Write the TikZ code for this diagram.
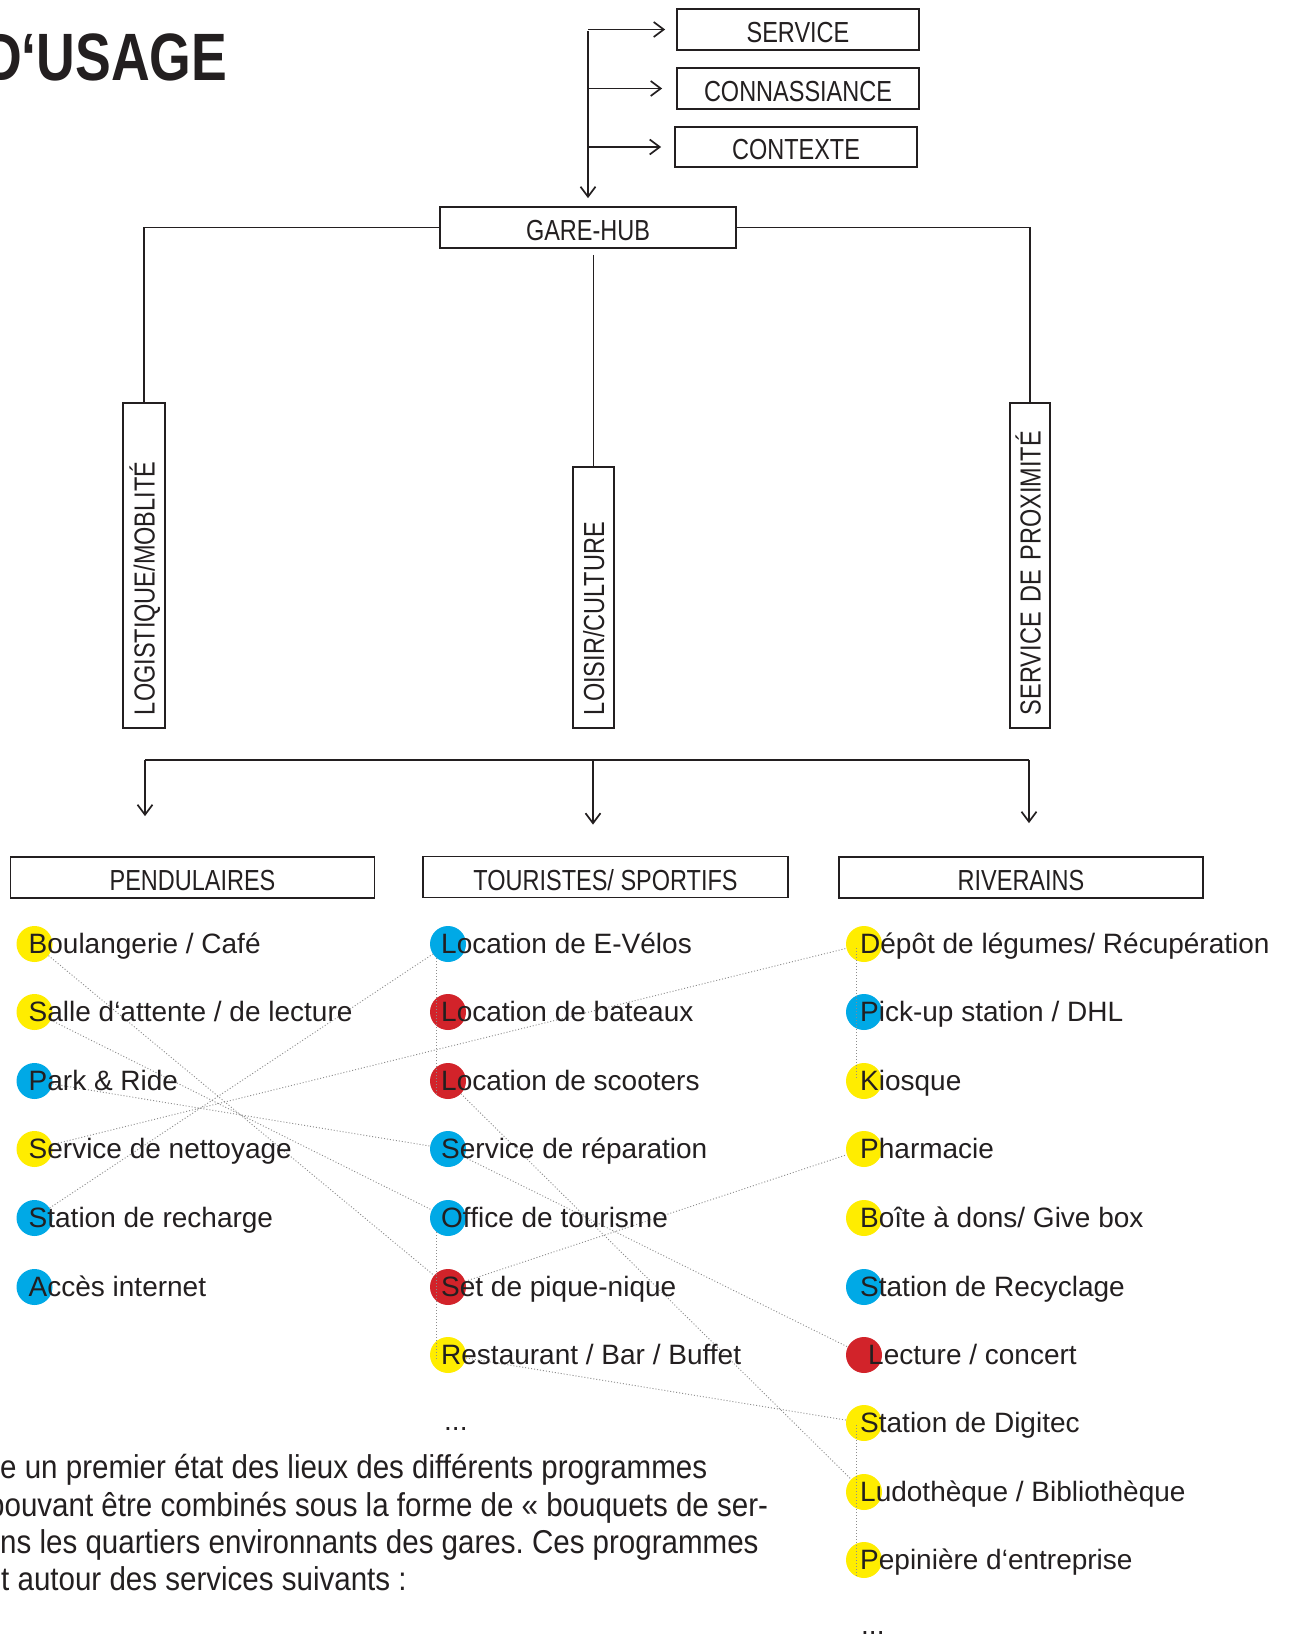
\documentclass[tikz,border=0pt]{standalone}
\usepackage{fontspec}
\setmainfont{Liberation Sans}
\newfontfamily\labelfont[FakeStretch=0.81]{Liberation Sans}
\newfontfamily\parafont[FakeStretch=0.895]{Liberation Sans}
\newfontfamily\titlefont[FakeStretch=0.8]{Liberation Sans}
\usetikzlibrary{arrows.meta,calc}
\definecolor{ink}{HTML}{231F20}
\definecolor{cyel}{HTML}{FFED00}
\definecolor{cblue}{HTML}{00A9E6}
\definecolor{cred}{HTML}{D2232A}
\definecolor{dotgray}{HTML}{8C8C8C}
\frenchspacing
\tikzset{
 line/.style={draw=ink,line width=1.7pt},
 arr/.style={line,-{Straight Barb[length=10pt,width=15pt]}},
 hbox/.style={draw=ink,line width=1.8pt,inner sep=0pt,text=ink,font=\labelfont\fontsize{29}{29}\selectfont,text height=26pt,text depth=0pt},
 vbox/.style={draw=ink,line width=1.8pt,rotate=90,inner ysep=0pt,inner xsep=13pt,text=ink,font=\labelfont\fontsize{29}{29}\selectfont,text height=21pt,text depth=0pt,align=left},
 dot/.style={circle,fill=#1,draw=none,minimum size=36pt,inner sep=0pt},
 itm/.style={anchor=base west,inner sep=0pt,text=ink,font=\fontsize{28}{28}\selectfont},
 para/.style={anchor=base west,inner sep=0pt,text=ink,font=\parafont\fontsize{33}{33}\selectfont},
 dotl/.style={draw=dotgray,line width=0.9pt,dash pattern=on 1pt off 2pt},
}
\begin{document}
\begin{tikzpicture}[x=1pt,y=-1pt]
\useasboundingbox[fill=white] (0,0) rectangle (1289,1640);

% title
\node[anchor=base west,inner sep=0pt,text=ink,font=\titlefont\bfseries\fontsize{67}{67}\selectfont] (title) at (-17,81) {D‘USAGE};

% top boxes
\node[hbox,minimum width=242pt,minimum height=41pt] (svc) at (798,29.5) {SERVICE};
\node[hbox,minimum width=242pt,minimum height=41pt] (con) at (798,88.5) {CONNASSIANCE};
\node[hbox,minimum width=242pt,minimum height=40pt] (ctx) at (796,147) {CONTEXTE};
\node[hbox,minimum width=296pt,minimum height=41pt] (hub) at (588,227.5) {GARE-HUB};
\coordinate (trunk) at (588,31);
\draw[arr,shorten >=11pt] (trunk |- svc.west) -- (svc.west);
\draw[arr,shorten >=14pt] (trunk |- con.west) -- (con.west);
\draw[arr,shorten >=13pt] (trunk |- ctx.west) -- (ctx.west);
\draw[arr,shorten >=8pt] (trunk) -- (trunk |- hub.north);

% vertical category boxes (rotated: visual top is the .east anchor)
\node[vbox,minimum width=325pt,minimum height=42pt,text width=299pt] (log) at (144,565.5) {LOGISTIQUE/MOBLITÉ};
\node[vbox,minimum width=261pt,minimum height=41pt,text width=235pt] (loi) at (593.5,597.5) {LOISIR/CULTURE};
\node[vbox,minimum width=325pt,minimum height=40pt,text width=299pt] (sdp) at (1030,565.5) {SERVICE DE PROXIMITÉ};
\draw[line] (hub.west) -| (log.east);
\draw[line] (hub.east) -| (sdp.east);
\draw[line,shorten <=6pt] (loi.east |- hub.south) -- (loi.east);

% group boxes
\node[hbox,minimum width=364pt,minimum height=41pt] (pen) at (192.5,877.5) {PENDULAIRES};
\node[hbox,minimum width=365pt,minimum height=41pt] (tou) at (605.5,877) {TOURISTES/ SPORTIFS};
\node[hbox,minimum width=364pt,minimum height=41pt] (riv) at (1021,877.5) {RIVERAINS};
\coordinate (bl) at (145,760);
\coordinate (bm) at (593,760);
\coordinate (br) at (1029,760);
\draw[line] (bl) -- (br);
\draw[arr,shorten >=40pt] (bl) -- (bl |- pen.north);
\draw[arr,shorten >=31pt] (bm) -- (bm |- tou.north);
\draw[arr,shorten >=33pt] (br) -- (br |- riv.north);

% dots
\node[dot=cyel]  (p1) at (34.5,944) {};
\node[dot=cyel]  (p2) at (34.5,1012) {};
\node[dot=cblue] (p3) at (34.5,1081) {};
\node[dot=cyel]  (p4) at (34.5,1149) {};
\node[dot=cblue] (p5) at (34.5,1218) {};
\node[dot=cblue] (p6) at (34.5,1287) {};

\node[dot=cblue] (m1) at (448,944) {};
\node[dot=cred]  (m2) at (448,1012) {};
\node[dot=cred]  (m3) at (448,1081) {};
\node[dot=cblue] (m4) at (448,1149) {};
\node[dot=cblue] (m5) at (448,1218) {};
\node[dot=cred]  (m6) at (448,1287) {};
\node[dot=cyel]  (m7) at (448,1355) {};

\node[dot=cyel]  (r1) at (864,944) {};
\node[dot=cblue] (r2) at (864,1012) {};
\node[dot=cyel]  (r3) at (864,1081) {};
\node[dot=cyel]  (r4) at (864,1149) {};
\node[dot=cyel]  (r5) at (864,1218) {};
\node[dot=cblue] (r6) at (864,1287) {};
\node[dot=cred]  (r7) at (864,1355) {};
\node[dot=cyel]  (r8) at (864,1423) {};
\node[dot=cyel]  (r9) at (864,1492) {};
\node[dot=cyel]  (r10) at (864,1560) {};

% dotted links
\draw[dotl] (p1) -- (m6);
\draw[dotl] (p2) -- (m5);
\draw[dotl] (p3) -- (m4);
\draw[dotl] (p4) -- (r1);
\draw[dotl] (p5) -- (m1);
\draw[dotl] (m3) -- (r9);
\draw[dotl] (m4) -- (r7);
\draw[dotl] (m6) -- (r4);
\draw[dotl] (m7) -- (r8);
\draw[dotl] (m1.232) -- (m1.232 |- m3.232);
\draw[dotl] (m5.232) -- (m5.232 |- m7.200);
\draw[dotl] ($(r1.center)+(-8,4)$) -- ($(r3.center)+(-8,-2)$);
\draw[dotl] ($(r8.center)+(-8,2)$) -- ($(r10.center)+(-8,16)$);

% item labels
\node[itm] (p1t) at ($(p1.center)+(-6,9.5)$) {Boulangerie / Café};
\node[itm] (p2t) at ($(p2.center)+(-6,9.5)$) {Salle d‘attente / de lecture};
\node[itm] (p3t) at ($(p3.center)+(-6,9.5)$) {Park \& Ride};
\node[itm] (p4t) at ($(p4.center)+(-6,9.5)$) {Service de nettoyage};
\node[itm] (p5t) at ($(p5.center)+(-6,9.5)$) {Station de recharge};
\node[itm] (p6t) at ($(p6.center)+(-6,9.5)$) {Accès internet};

\node[itm] (m1t) at ($(m1.center)+(-7,9.5)$) {Location de E-Vélos};
\node[itm] (m2t) at ($(m2.center)+(-7,9.5)$) {Location de bateaux};
\node[itm] (m3t) at ($(m3.center)+(-7,9.5)$) {Location de scooters};
\node[itm] (m4t) at ($(m4.center)+(-7,9.5)$) {Service de réparation};
\node[itm] (m5t) at ($(m5.center)+(-7,9.5)$) {Office de tourisme};
\node[itm] (m6t) at ($(m6.center)+(-7,9.5)$) {Set de pique-nique};
\node[itm] (m7t) at ($(m7.center)+(-7,9.5)$) {Restaurant / Bar / Buffet};
\node[itm] (mdots) at (444,1430) {...};

\node[itm] (r1t) at ($(r1.center)+(-4,9.5)$) {Dépôt de légumes/ Récupération};
\node[itm] (r2t) at ($(r2.center)+(-4,9.5)$) {Pick-up station / DHL};
\node[itm] (r3t) at ($(r3.center)+(-4,9.5)$) {Kiosque};
\node[itm] (r4t) at ($(r4.center)+(-4,9.5)$) {Pharmacie};
\node[itm] (r5t) at ($(r5.center)+(-4,9.5)$) {Boîte à dons/ Give box};
\node[itm] (r6t) at ($(r6.center)+(-4,9.5)$) {Station de Recyclage};
\node[itm] (r7t) at ($(r7.center)+(4,9.5)$) {Lecture / concert};
\node[itm] (r8t) at ($(r8.center)+(-4,9.5)$) {Station de Digitec};
\node[itm] (r9t) at ($(r9.center)+(-4,9.5)$) {Ludothèque / Bibliothèque};
\node[itm] (r10t) at ($(r10.center)+(-4,9.5)$) {Pepinière d‘entreprise};
\node[itm] (rdots) at (861,1634) {...};

% paragraph
\node[para] (pl1) at (0,1478) {e un premier état des lieux des différents programmes};
\node[para] (pl2) at (-12,1516) {pouvant être combinés sous la forme de « bouquets de ser-};
\node[para] (pl3) at (0,1553) {ns les quartiers environnants des gares. Ces programmes};
\node[para] (pl4) at (1,1590) {t autour des services suivants :};
\end{tikzpicture}
\end{document}
